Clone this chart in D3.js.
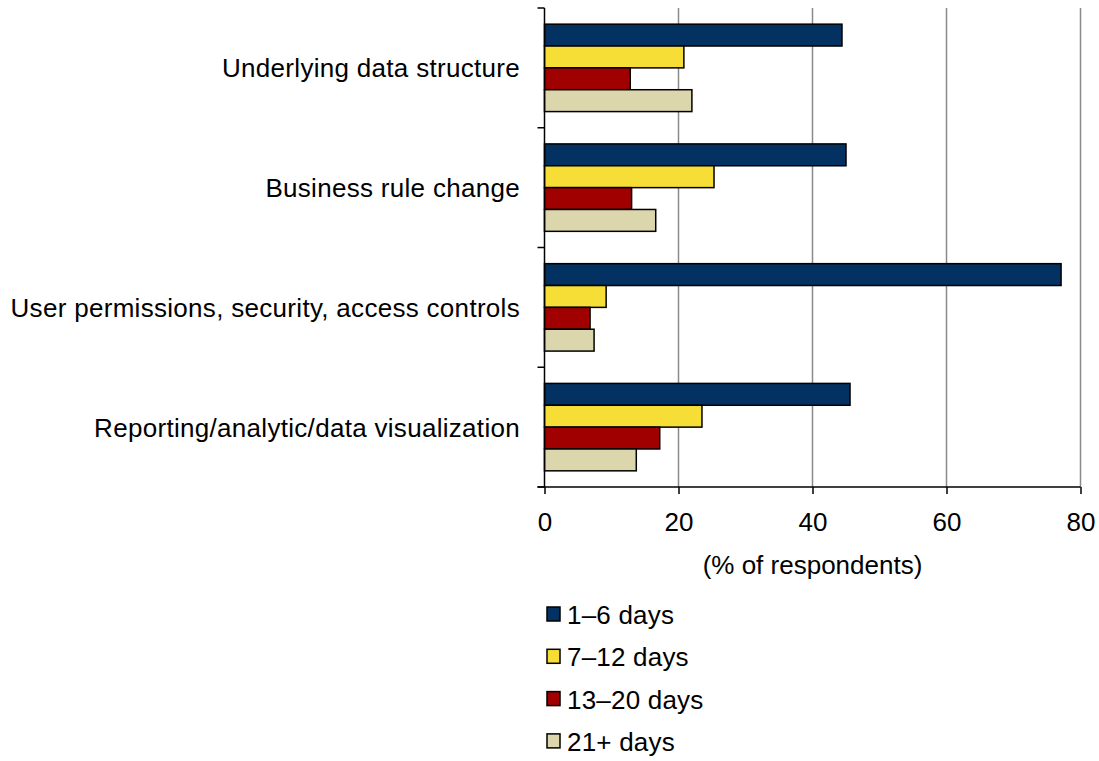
<!DOCTYPE html>
<html>
<head>
<meta charset="utf-8">
<script src="https://cdn.jsdelivr.net/npm/d3@7"></script>
<style>
  body { margin: 0; background: #fff; }
  text { font-family: "Liberation Sans", Arial, sans-serif; fill: #000; }
</style>
</head>
<body>
<script>
// categories top to bottom
const categories = [
    "Underlying data structure",
    "Business rule change",
    "User permissions, security, access controls",
    "Reporting/analytic/data visualization"
];
const seriesNames = ["1\u20136 days", "7\u201312 days", "13\u201320 days", "21+ days"];
const seriesColors = ["#023162", "#F7DE36", "#A00000", "#DCD6AC"];

// values per series, same order as categories
const days1to6 = [44.4, 45.0, 77.1, 45.6];
const days7to12 = [20.8, 25.3, 9.2, 23.5];
const days13to20 = [12.8, 13.0, 6.8, 17.2];
const days21plus = [22.0, 16.6, 7.4, 13.7];

const xTicks = [0, 20, 40, 60, 80];

const seriesValues = [days1to6, days7to12, days13to20, days21plus];

const width = 1099, height = 761;
const plotLeft = 544.5, plotRight = 1080.5, plotTop = 8, plotBottom = 487;

const svg = d3.select("body")
    .append("svg")
    .attr("width", width)
    .attr("height", height);

const x = d3.scaleLinear().domain([0, 80]).range([plotLeft, plotRight]);

const y0 = d3.scaleBand()
    .domain(categories)
    .range([plotTop, plotBottom])
    .paddingInner(0.27)
    .paddingOuter(0.135);

const y1 = d3.scaleBand()
    .domain(d3.range(seriesNames.length))
    .range([0, y0.bandwidth()]);

// gridlines
svg.append("g")
    .selectAll("line")
    .data(xTicks.filter(t => t > 0))
    .enter()
    .append("line")
    .attr("x1", d => x(d))
    .attr("x2", d => x(d))
    .attr("y1", plotTop)
    .attr("y2", plotBottom)
    .attr("stroke", "#8a8a8a")
    .attr("stroke-width", 1.5);

// bars
const groups = svg.append("g")
    .selectAll("g")
    .data(categories)
    .enter()
    .append("g")
    .attr("transform", d => `translate(0,${y0(d)})`);

groups.selectAll("rect")
    .data((c, ci) => seriesValues.map((vals, si) => ({ si, v: vals[ci] })))
    .enter()
    .append("rect")
    .attr("x", x(0))
    .attr("y", d => y1(d.si))
    .attr("width", d => x(d.v) - x(0))
    .attr("height", y1.bandwidth())
    .attr("fill", d => seriesColors[d.si])
    .attr("stroke", "#000")
    .attr("stroke-width", 1.5);

// left axis: line with ticks at band boundaries
const step = y0.step();
const boundaries = d3.range(categories.length + 1).map(i => plotTop + i * step);
svg.append("line")
    .attr("x1", plotLeft).attr("x2", plotLeft)
    .attr("y1", plotTop).attr("y2", plotBottom)
    .attr("stroke", "#000").attr("stroke-width", 1.5);
svg.append("g")
    .selectAll("line")
    .data(boundaries)
    .enter()
    .append("line")
    .attr("x1", plotLeft - 7).attr("x2", plotLeft)
    .attr("y1", d => d).attr("y2", d => d)
    .attr("stroke", "#000").attr("stroke-width", 1.5);

// category labels
svg.append("g")
    .selectAll("text")
    .data(categories)
    .enter()
    .append("text")
    .attr("x", 520)
    .attr("y", d => y0(d) + y0.bandwidth() / 2)
    .attr("dy", "0.37em")
    .attr("text-anchor", "end")
    .style("font-size", "26px")
    .style("letter-spacing", "0.3px")
    .text(d => d);

// bottom axis
const xAxis = d3.axisBottom(x)
    .tickValues(xTicks)
    .tickSize(7)
    .tickPadding(19)
    .tickSizeOuter(0);

const gx = svg.append("g")
    .attr("transform", `translate(0,${plotBottom})`)
    .call(xAxis);
gx.select(".domain").attr("stroke", "#000").attr("stroke-width", 1.5)
    .attr("d", `M${plotLeft - 7},0H${plotRight}`);
gx.selectAll(".tick line").attr("stroke", "#000").attr("stroke-width", 1.5);
gx.selectAll(".tick text")
    .style("font-size", "26px")
    .style("font-family", "'Liberation Sans', Arial, sans-serif")
    .attr("fill", "#000");

svg.append("text")
    .attr("x", (plotLeft + plotRight) / 2)
    .attr("y", 574)
    .attr("text-anchor", "middle")
    .style("font-size", "26px")
    .text("(% of respondents)");

// legend
const legend = svg.append("g")
    .selectAll("g")
    .data(seriesNames)
    .enter()
    .append("g")
    .attr("transform", (d, i) => `translate(547,${607 + i * 42.3})`);

legend.append("rect")
    .attr("width", 13)
    .attr("height", 14)
    .attr("fill", (d, i) => seriesColors[i])
    .attr("stroke", "#000")
    .attr("stroke-width", 1.5);

legend.append("text")
    .attr("x", 20)
    .attr("y", 17)
    .style("font-size", "26px")
    .style("letter-spacing", "0.2px")
    .text(d => d);
</script>
</body>
</html>
